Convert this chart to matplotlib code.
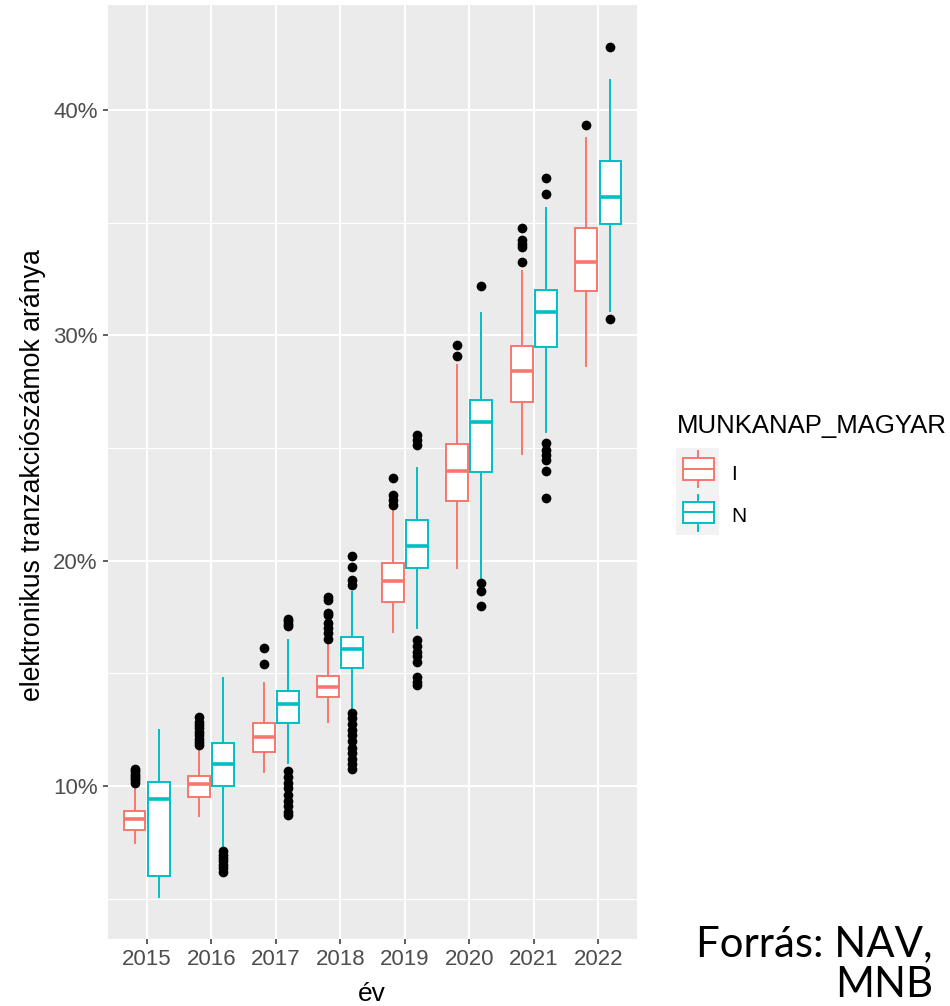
import matplotlib
matplotlib.use("Agg")
import matplotlib.pyplot as plt
from matplotlib.patches import Rectangle
from matplotlib.lines import Line2D
import numpy as np

# ---------------- data (values in %) ----------------
years = ["2015", "2016", "2017", "2018", "2019", "2020", "2021", "2022"]
groups = ["I", "N"]

I_whislo = [7.47, 8.68, 10.63, 12.85, 16.82, 19.65, 24.74, 28.64]
I_q1     = [8.05, 9.50, 11.52, 13.93, 18.15, 22.66, 27.03, 31.98]
I_med    = [8.52, 10.08, 12.16, 14.37, 19.11, 23.99, 28.39, 33.27]
I_q3     = [8.89, 10.43, 12.78, 14.89, 19.88, 25.18, 29.50, 34.78]
I_whishi = [10.00, 11.74, 14.58, 16.40, 22.25, 28.69, 32.86, 38.75]
I_fliers = [
    [10.15, 10.25, 10.35, 10.45, 10.55, 10.65, 10.75],
    [11.80, 11.95, 12.10, 12.25, 12.40, 12.55, 12.70, 12.85, 13.07],
    [15.41, 16.14],
    [16.53, 16.77, 16.99, 17.21, 17.58, 17.66, 18.25, 18.40],
    [22.47, 22.69, 22.92, 23.65],
    [29.09, 29.57],
    [33.23, 33.90, 34.05, 34.23, 34.78],
    [39.34],
]

N_whislo = [5.09, 7.23, 11.00, 13.35, 16.99, 19.21, 25.69, 31.09]
N_q1     = [6.02, 10.00, 12.78, 15.22, 19.69, 23.94, 29.47, 34.93]
N_med    = [9.41, 10.98, 13.64, 16.09, 20.65, 26.13, 31.02, 36.13]
N_q3     = [10.19, 11.90, 14.22, 16.59, 21.81, 27.13, 32.01, 37.71]
N_whishi = [12.49, 14.79, 16.48, 18.62, 24.09, 30.98, 35.64, 41.33]
N_fliers = [
    [],
    [6.20, 6.35, 6.50, 6.65, 6.80, 6.95, 7.10],
    [17.10, 17.20, 17.30, 17.40, 10.65, 10.40, 10.15, 9.90, 9.60, 9.35, 9.10, 8.85, 8.70],
    [18.92, 19.14, 19.70, 20.20, 13.25, 13.00, 12.75, 12.50, 12.25, 12.00, 11.70, 11.45, 11.20, 10.95, 10.73],
    [25.13, 25.36, 25.58, 16.48, 16.20, 15.96, 15.75, 15.52, 14.85, 14.63, 14.48],
    [32.19, 18.99, 18.66, 17.99],
    [36.26, 36.97, 25.21, 24.91, 24.70, 24.47, 23.99, 22.78],
    [42.77, 30.71],
]

y_ticks = [10, 20, 30, 40]
y_ticklabels = ["10%", "20%", "30%", "40%"]
y_minor = [5, 15, 25, 35]

COL = {"I": "#F8766D", "N": "#00BFC4"}
FONT = "Liberation Sans"
plt.rcParams["font.family"] = [FONT, "DejaVu Sans"]

W, H = 950, 1006
fig = plt.figure(figsize=(W / 100, H / 100), dpi=100)
fig.patch.set_facecolor("white")

# panel in pixel coordinates
pl, pr, pt, pb = 108, 637, 5, 939
ax = fig.add_axes([pl / W, 1 - pb / H, (pr - pl) / W, (pb - pt) / H])
ax.set_facecolor("#EBEBEB")
for s in ax.spines.values():
    s.set_visible(False)


def make_stats(wlo, q1, med, q3, whi, fl):
    out = []
    for a, b, c, d, e, f in zip(wlo, q1, med, q3, whi, fl):
        out.append(dict(whislo=a, q1=b, med=c, q3=d, whishi=e, fliers=f))
    return out


x = np.arange(1, len(years) + 1)
offset = 0.1875
bw = 0.3375
stats = {
    "I": make_stats(I_whislo, I_q1, I_med, I_q3, I_whishi, I_fliers),
    "N": make_stats(N_whislo, N_q1, N_med, N_q3, N_whishi, N_fliers),
}
for g, sgn in zip(groups, (-1, 1)):
    c = COL[g]
    ax.bxp(stats[g], positions=x + sgn * offset, widths=bw, patch_artist=True,
           showcaps=False, manage_ticks=False,
           boxprops=dict(facecolor="white", edgecolor=c, linewidth=1.4),
           whiskerprops=dict(color=c, linewidth=1.4),
           medianprops=dict(color=c, linewidth=2.6, solid_capstyle="butt"),
           flierprops=dict(marker="o", markerfacecolor="black", markeredgecolor="black",
                           markersize=7.0, markeredgewidth=0, linestyle="none"),
           zorder=3)

# limits (ggplot-style expansion)
all_vals = I_whislo + N_whislo + I_whishi + N_whishi + sum(I_fliers, []) + sum(N_fliers, [])
lo, hi = min(all_vals), max(all_vals)
span = hi - lo
ax.set_ylim(lo - 0.05 * span, hi + 0.05 * span)
ax.set_xlim(0.4, len(years) + 0.6)

ax.set_yticks(y_ticks)
ax.set_yticklabels(y_ticklabels)
ax.set_yticks(y_minor, minor=True)
ax.set_xticks(x)
ax.set_xticklabels(years)
ax.set_axisbelow(True)
ax.grid(which="major", color="white", linewidth=1.5, zorder=0)
ax.grid(which="minor", axis="y", color="white", linewidth=0.8, zorder=0)
ax.tick_params(axis="both", which="major", length=3.5, width=1.1, color="#333333",
               labelcolor="#4D4D4D", labelsize=16, pad=4)
ax.tick_params(axis="both", which="minor", length=0)

# axis titles
fig.text(33 / W, 1 - 475 / H, "elektronikus tranzakciószámok aránya", rotation=90,
         ha="center", va="center", fontsize=19.2, color="black")
fig.text(372 / W, 1 - 994 / H, "év", ha="center", va="center", fontsize=19, color="black")

# legend
fig.text(677 / W, 1 - 426 / H, "MUNKANAP_MAGYAR", ha="left", va="center", fontsize=18.5, color="black")
lk = fig.add_axes([676 / W, 1 - 535 / H, 43 / W, 87 / H])
lk.set_facecolor("#F2F2F2")
lk.set_xlim(0, 1)
lk.set_ylim(0, 2)
lk.set_xticks([])
lk.set_yticks([])
for s in lk.spines.values():
    s.set_visible(False)
for g, base in zip(groups, (1, 0)):
    c = COL[g]
    lk.add_patch(Rectangle((0.16, base + 0.27), 0.72, 0.5, facecolor="white", edgecolor=c, linewidth=1.4))
    lk.add_line(Line2D([0.52, 0.52], [base + 0.1, base + 0.27], color=c, linewidth=1.4))
    lk.add_line(Line2D([0.52, 0.52], [base + 0.77, base + 0.92], color=c, linewidth=1.4))
    lk.add_line(Line2D([0.16, 0.88], [base + 0.52, base + 0.52], color=c, linewidth=1.4))
fig.text(731 / W, 1 - 474 / H, "I", ha="left", va="center", fontsize=15, color="black")
fig.text(731 / W, 1 - 517 / H, "N", ha="left", va="center", fontsize=15, color="black")

# source note, sized to the reference width
src_lines = ["Forrás: NAV,", "MNB"]
src_y = [944, 985]
t1 = fig.text(933 / W, 1 - src_y[0] / H, src_lines[0], ha="right", va="center",
              fontsize=30, family=["Lato", "DejaVu Sans"], color="black")
fig.canvas.draw()
wpx = t1.get_window_extent(renderer=fig.canvas.get_renderer()).width
fs = 30 * 236 / wpx
t1.set_fontsize(fs)
fig.text(933 / W, 1 - src_y[1] / H, src_lines[1], ha="right", va="center",
         fontsize=fs, family=["Lato", "DejaVu Sans"], color="black")

fig.savefig("out.png", dpi=100, facecolor="white")
